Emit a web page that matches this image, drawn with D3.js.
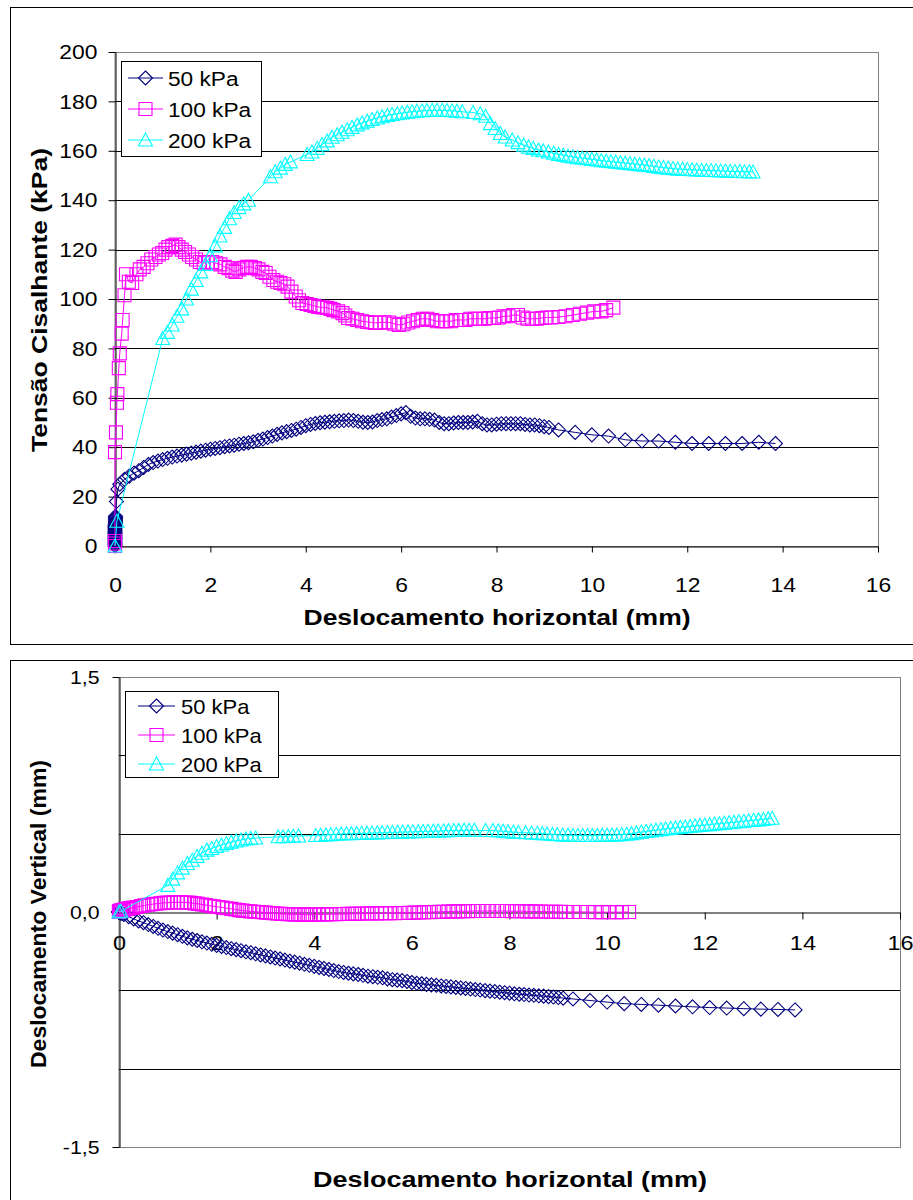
<!DOCTYPE html>
<html>
<head>
<meta charset="utf-8">
<title>Cisalhamento direto</title>
<script src="https://d3js.org/d3.v7.min.js"></script>
<style>
body{margin:0;background:#fff}
svg{display:block}
text{font-family:"Liberation Sans",Arial,sans-serif;fill:#000}
</style>
</head>
<body>
<script>
// rows: [deslocamento horizontal (mm), tensão cisalhante (kPa), deslocamento vertical (mm)]
const series50 = [
  [0,0,0],[0,0.5,0],[0,1,0],[0,1.5,0],[0,2,0],[0,2.5,0],[0,3,0],[0,3.5,0],[0,4,0],[0,4.5,0],[0,5,0],[0,5.5,0],
  [0,6,0],[0,6.5,0],[0,7,0],[0,7.5,0],[0,8,0],[0,8.5,0],[0.01,9,0],[0.01,9.5,0],[0.01,10,0],[0.01,10.5,0],
  [0.01,11,-0.002],[0.01,11.5,-0.002],[0.01,12,-0.003],
  [0.03,18,-0.006],[0.06,23,-0.01],
  [0.1,25,-0.016],[0.2,27,-0.03],[0.3,28.3,-0.044],[0.4,29.5,-0.057],[0.5,30.5,-0.068],[0.6,31.8,-0.08],
  [0.7,33,-0.092],[0.8,33.8,-0.104],[0.9,34.4,-0.115],[1.0,35,-0.125],[1.1,35.5,-0.135],[1.2,36,-0.145],
  [1.3,36.4,-0.155],[1.4,36.8,-0.165],[1.5,37.2,-0.174],[1.6,37.6,-0.182],[1.7,38,-0.19],[1.8,38.4,-0.198],
  [1.9,38.8,-0.206],[2.0,39.2,-0.213],[2.1,39.5,-0.22],[2.2,39.8,-0.227],[2.3,40.2,-0.234],[2.4,40.5,-0.24],
  [2.5,40.8,-0.247],[2.6,41.2,-0.254],[2.7,41.5,-0.26],[2.8,41.8,-0.267],[2.9,42.2,-0.274],[3.0,42.8,-0.28],
  [3.1,43.3,-0.287],[3.2,43.9,-0.294],[3.3,44.5,-0.3],[3.4,45.2,-0.307],[3.5,45.8,-0.314],[3.6,46.3,-0.32],
  [3.7,46.8,-0.327],[3.8,47.3,-0.334],[3.9,48,-0.34],[4.0,48.7,-0.347],[4.1,49.2,-0.354],[4.2,49.6,-0.36],
  [4.3,49.9,-0.367],[4.4,50.1,-0.374],[4.5,50.3,-0.38],[4.6,50.5,-0.386],[4.7,50.7,-0.391],[4.8,50.8,-0.395],
  [4.9,51,-0.399],[5.0,50.8,-0.404],[5.1,50.5,-0.41],[5.2,50.1,-0.413],[5.3,50,-0.417],[5.4,50.2,-0.42],
  [5.5,50.8,-0.427],[5.6,51.2,-0.432],[5.7,51.5,-0.435],[5.8,52.2,-0.438],[5.9,52.8,-0.443],[6.0,53.5,-0.45],
  [6.1,54,-0.455],[6.2,52.5,-0.458],[6.3,51.8,-0.462],[6.4,51.5,-0.465],[6.5,51.5,-0.468],[6.6,51.3,-0.472],
  [6.7,51,-0.475],[6.8,50,-0.478],[6.9,49.5,-0.482],[7.0,49.5,-0.485],[7.1,49.8,-0.488],[7.2,50,-0.492],
  [7.3,50,-0.495],[7.4,50,-0.498],[7.5,50.2,-0.502],[7.6,50.5,-0.505],[7.7,49.5,-0.508],[7.8,49,-0.512],
  [7.9,49,-0.515],[8.0,49.3,-0.518],[8.1,49.5,-0.522],[8.2,49.5,-0.525],[8.3,49.5,-0.527],[8.4,49.5,-0.53],
  [8.5,49.5,-0.532],[8.6,49.2,-0.535],[8.7,49,-0.537],[8.8,49,-0.54],[8.9,48.7,-0.543],[9.0,48.3,-0.546],
  [9.1,48,-0.55],
  [9.3,47,-0.555],[9.65,46,-0.565],[10.0,45,-0.575],[10.35,44.5,-0.585],[10.7,43,-0.59],[11.05,42.5,-0.595],
  [11.4,42.5,-0.6],[11.75,42,-0.605],[12.1,41.5,-0.61],[12.45,41.5,-0.613],[12.8,41.5,-0.617],[13.15,41.5,-0.62],
  [13.5,42,-0.622],[13.85,41.5,-0.625]
]
const series100 = [
  [0,0,0],[0,1,0],[0,2,0.005],[0,38,0.005],[0.02,46,0.008],[0.04,58,0.01],[0.05,61.5,0.01],[0.08,72,0.012],
  [0.1,78,0.015],[0.14,86,0.018],[0.16,91.5,0.02],[0.2,101.5,0.022],[0.23,110,0.025],[0.29,107,0.028],
  [0.36,106.5,0.032],[0.45,110,0.038],[0.52,112,0.042],[0.6,113,0.046],[0.68,114.5,0.05],[0.76,116,0.053],
  [0.85,117,0.056],[0.92,118,0.058],[0.99,118.6,0.06],[1.06,120,0.061],[1.12,121,0.062],[1.2,121.5,0.062],
  [1.27,122,0.062],[1.33,121,0.061],[1.4,120,0.06],[1.47,119,0.058],[1.55,118,0.055],[1.62,117,0.052],
  [1.7,116,0.048],[1.78,115,0.044],[1.86,114.5,0.04],[1.95,115,0.036],[2.04,115,0.032],[2.12,114.5,0.028],
  [2.21,114,0.024],[2.3,113,0.02],[2.38,112.5,0.016],[2.46,111.5,0.012],[2.53,111,0.009],[2.61,112,0.006],
  [2.69,112.6,0.004],[2.77,113,0.002],[2.85,113,0],[2.93,112.5,-0.002],[3.01,112,-0.004],[3.09,111,-0.006],
  [3.16,110.5,-0.008],[3.24,109,-0.01],[3.32,107.7,-0.012],[3.4,107,-0.013],[3.47,106.5,-0.014],
  [3.55,106,-0.015],[3.62,105,-0.016],[3.7,103,-0.016],[3.79,101,-0.017],[3.86,99.5,-0.017],[3.93,98.4,-0.017],
  [4.02,98,-0.016],[4.1,97.6,-0.016],[4.18,97.2,-0.015],[4.26,96.8,-0.015],[4.35,96.6,-0.014],[4.45,96.4,-0.014],
  [4.52,96,-0.013],[4.58,95.5,-0.013],[4.68,95,-0.012],[4.77,94.3,-0.012],[4.83,93.3,-0.011],[4.89,92.3,-0.011],
  [4.98,92,-0.01],[5.08,91.5,-0.01],[5.18,91,-0.009],[5.29,90.7,-0.009],[5.38,90.5,-0.008],[5.46,90.3,-0.008],
  [5.55,90.5,-0.007],[5.65,90.6,-0.007],[5.75,90.5,-0.006],[5.85,90,-0.006],[5.95,89.5,-0.005],[6.05,89.8,-0.004],
  [6.15,90.5,-0.003],[6.25,91,-0.002],[6.35,91.5,-0.001],[6.45,92,0],[6.55,92,0.001],[6.65,91.5,0.002],
  [6.75,91,0.003],[6.85,91,0.004],[6.95,91,0.004],[7.05,91,0.005],[7.15,91.5,0.005],[7.25,91.5,0.006],
  [7.35,91.5,0.006],[7.45,92,0.006],[7.55,92,0.006],[7.65,92,0.006],[7.75,92,0.006],[7.85,92.3,0.006],
  [7.95,92.3,0.006],[8.05,92.5,0.005],[8.15,93,0.005],[8.25,93,0.005],[8.35,93.5,0.004],[8.45,93.5,0.004],
  [8.55,92.5,0.003],[8.65,92,0.003],[8.75,92,0.002],[8.85,92,0.002],[8.95,92.3,0.001],[9.05,92.5,0.001],
  [9.15,92.5,0],[9.3,92.7,0],[9.45,93,0],[9.6,93.5,0],[9.75,94,-0.001],[9.9,94.5,-0.001],[10.05,95,-0.001],
  [10.2,95,-0.001],[10.3,95.5,-0.001],[10.45,96.5,0]
]
const series200 = [
  [0,0,0],[0.04,10,0.005],[1.0,84,0.17],[1.1,86.5,0.21],[1.2,89.5,0.25],[1.3,93,0.28],[1.4,96,0.31],
  [1.5,100,0.33],[1.6,104,0.355],[1.7,107.5,0.375],[1.8,111,0.395],[1.9,114,0.405],[2.0,117.5,0.418],
  [2.1,121.5,0.428],[2.2,125.5,0.437],[2.3,129,0.446],[2.4,132.5,0.453],[2.5,135,0.46],[2.6,137,0.466],
  [2.7,138.5,0.469],[2.8,140,0.472],
  [3.26,149.5,0.48],[3.36,151.5,0.48],[3.47,153,0.482],[3.57,154.5,0.484],[3.68,155.5,0.485],
  [4.03,158.5,0.488],[4.13,159.5,0.49],[4.24,161,0.492],[4.34,162.5,0.494],[4.45,164,0.496],[4.55,165.5,0.498],
  [4.66,166.5,0.5],[4.76,167.5,0.5],[4.87,168.5,0.501],[4.97,169.5,0.502],[5.08,170.5,0.503],[5.18,171.3,0.504],
  [5.29,172,0.505],[5.39,172.7,0.506],[5.5,173.3,0.507],[5.6,173.8,0.508],[5.71,174.3,0.509],[5.81,174.7,0.51],
  [5.92,175,0.511],[6.02,175.3,0.512],[6.13,175.6,0.513],[6.23,175.8,0.514],[6.33,176,0.515],[6.44,176.2,0.516],
  [6.54,176.3,0.517],[6.65,176.4,0.518],[6.75,176.4,0.519],[6.86,176.4,0.52],[6.96,176.3,0.521],[7.07,176.2,0.522],
  [7.17,176,0.522],[7.28,175.8,0.522],
  [7.51,175.5,0.52],[7.66,175,0.52],[7.77,174,0.518],[7.87,171,0.515],[7.97,169,0.512],[8.08,167,0.51],
  [8.18,165.6,0.508],[8.33,164.4,0.506],[8.45,163.3,0.504],[8.57,162.3,0.502],[8.67,161.5,0.5],[8.77,161,0.498],
  [8.88,160.3,0.495],[8.98,160,0.493],[9.09,159.5,0.491],[9.2,159,0.49],[9.3,158.5,0.489],[9.4,158.2,0.488],
  [9.5,157.8,0.488],[9.6,157.5,0.488],[9.7,157.2,0.488],[9.8,157,0.489],[9.9,156.8,0.49],[10.0,156.5,0.49],
  [10.1,156.3,0.491],[10.2,156,0.492],[10.3,155.8,0.494],[10.4,155.6,0.496],[10.5,155.4,0.5],[10.6,155.2,0.505],
  [10.7,155,0.51],[10.8,154.8,0.514],[10.9,154.6,0.518],[11.0,154.4,0.522],[11.1,154.2,0.526],[11.2,154,0.53],
  [11.3,153.7,0.534],[11.4,153.4,0.537],[11.5,153.2,0.54],[11.6,153,0.543],[11.7,152.8,0.546],[11.8,152.6,0.549],
  [11.9,152.5,0.552],[12.0,152.4,0.555],[12.1,152.3,0.558],[12.2,152.2,0.561],[12.3,152.1,0.564],[12.4,152,0.567],
  [12.5,152,0.57],[12.6,151.9,0.573],[12.7,151.8,0.576],[12.8,151.8,0.579],[12.9,151.7,0.582],[13.0,151.6,0.585],
  [13.1,151.6,0.588],[13.2,151.5,0.591],[13.3,151.5,0.595],[13.38,151.4,0.598]
]

const seriesNames = ['50 kPa', '100 kPa', '200 kPa']
const seriesColors = ['#000080', '#ff00ff', '#00ffff']
const seriesMarkers = ['diamond', 'square', 'triangle']
const allSeries = [series50, series100, series200]

const xTicks = [0, 2, 4, 6, 8, 10, 12, 14, 16]
const tauTicks = [0, 20, 40, 60, 80, 100, 120, 140, 160, 180, 200]
const tauGrid = [20, 40, 60, 80, 100, 120, 140, 160, 180]
const vertTicks = [-1.5, 0, 1.5]
const vertGrid = [-1, -0.5, 0.5, 1]

const svg = d3.select('body').append('svg')
  .attr('width', 913)
  .attr('height', 1200)

// marker shapes (open, like the Excel ones)
const markerPath = {
  diamond: 'M0,-7L7,0L0,7L-7,0Z',
  square: 'M-6.5,-6.5H6.5V6.5H-6.5Z',
  triangle: 'M0,-7L7,6L-7,6Z'
}

// 1,5 / 0,0 / -1,5 with a plain hyphen
const fmtComma = d => d3.format('.1f')(d).replace('.', ',').replace('\u2212', '-')

function drawPanel(p) {
  const g = svg.append('g')

  // outer frame
  g.append('rect')
    .attr('x', p.frame[0] + 0.5).attr('y', p.frame[1] + 0.5)
    .attr('width', p.frame[2]).attr('height', p.frame[3])
    .attr('fill', 'none').attr('stroke', '#000').attr('stroke-width', 1)

  const x = d3.scaleLinear().domain([0, 16]).range([p.left, p.right])
  const y = d3.scaleLinear().domain(p.yDomain).range([p.bottom, p.top])

  // plot area border
  g.append('rect')
    .attr('x', p.left).attr('y', p.top + 0.5)
    .attr('width', p.right - p.left + 0.5).attr('height', p.bottom - p.top)
    .attr('fill', 'none').attr('stroke', '#808080').attr('stroke-width', 1)

  // gridlines
  g.append('g').selectAll('line')
    .data(p.grid)
    .join('line')
      .attr('x1', p.left).attr('x2', p.right)
      .attr('y1', d => Math.round(y(d)) + 0.5).attr('y2', d => Math.round(y(d)) + 0.5)
      .attr('stroke', '#000').attr('stroke-width', 1)

  // y axis
  const yAxis = g.append('g')
    .attr('transform', `translate(${p.left + 0.5},0)`)
    .call(d3.axisLeft(y).tickValues(p.yTicks).tickFormat(p.yFormat).tickSizeInner(7).tickSizeOuter(0))
  yAxis.selectAll('text')
    .attr('x', -p.yLabelGap / p.tickStretch)
    .attr('transform', `scale(${p.tickStretch},1)`)
    .style('font-size', p.yTickFont + 'px')

  // x axis
  const xAxis = g.append('g')
    .attr('transform', `translate(0,${Math.round(y(p.xAxisAt)) + 0.5})`)
    .call(d3.axisBottom(x).tickValues(xTicks).tickFormat(d3.format('d')).tickSizeInner(p.xTickLen).tickSizeOuter(0))
  xAxis.selectAll('text')
    .attr('y', p.xLabelGap)
    .attr('transform', `scale(${p.tickStretch},1)`)
    .style('font-size', p.xTickFont + 'px')
  g.selectAll('.domain, .tick line').attr('stroke', '#000')

  // series: line then markers, in Excel's drawing order
  const line = d3.line().x(d => x(d[0])).y(d => y(d[p.valueIndex]))
  allSeries.forEach((s, i) => {
    const sg = g.append('g')
    sg.append('path')
      .datum(s)
      .attr('d', line)
      .attr('fill', 'none')
      .attr('stroke', seriesColors[i])
      .attr('stroke-width', 1)
    sg.selectAll('path.m')
      .data(s)
      .join('path')
        .attr('class', 'm')
        .attr('transform', d => `translate(${x(d[0])},${y(d[p.valueIndex])})`)
        .attr('d', markerPath[seriesMarkers[i]])
        .attr('fill', 'none')
        .attr('stroke', seriesColors[i])
        .attr('stroke-width', 1.1)
  })

  // legend
  const L = p.legend
  const lg = g.append('g')
  lg.append('rect')
    .attr('x', L.x + 0.5).attr('y', L.y + 0.5)
    .attr('width', L.w).attr('height', L.h)
    .attr('fill', '#fff').attr('stroke', '#000').attr('stroke-width', 1)
  seriesNames.forEach((name, i) => {
    const ry = L.rows[i]
    lg.append('line')
      .attr('x1', L.lineX[0]).attr('x2', L.lineX[1])
      .attr('y1', ry).attr('y2', ry)
      .attr('stroke', seriesColors[i]).attr('stroke-width', 1)
    lg.append('path')
      .attr('transform', `translate(${(L.lineX[0] + L.lineX[1]) / 2},${ry})`)
      .attr('d', markerPath[seriesMarkers[i]])
      .attr('fill', 'none').attr('stroke', seriesColors[i]).attr('stroke-width', 1.1)
    lg.append('text')
      .attr('transform', `translate(${L.textX},${ry + L.font * 0.38}) scale(${L.stretch},1)`)
      .style('font-size', L.font + 'px')
      .text(name)
  })

  // axis titles
  g.append('text')
    .attr('x', p.xTitle.x).attr('y', p.xTitle.y)
    .attr('text-anchor', 'middle')
    .attr('textLength', p.xTitle.len).attr('lengthAdjust', 'spacingAndGlyphs')
    .style('font-size', p.xTitle.font + 'px').style('font-weight', 'bold')
    .text(p.xTitle.text)
  g.append('text')
    .attr('transform', `translate(${p.yTitle.x},${p.yTitle.y}) rotate(-90)`)
    .attr('text-anchor', 'middle')
    .attr('textLength', p.yTitle.len).attr('lengthAdjust', 'spacingAndGlyphs')
    .style('font-size', p.yTitle.font + 'px').style('font-weight', 'bold')
    .text(p.yTitle.text)
}

// top: shear stress
drawPanel({
  frame: [10, 7, 920, 637],
  left: 115, right: 878, top: 52, bottom: 546,
  yDomain: [0, 200], yTicks: tauTicks, grid: tauGrid, yFormat: d3.format('d'),
  valueIndex: 1, xAxisAt: 0,
  tickStretch: 1.09, yTickFont: 21, xTickFont: 21, yLabelGap: 18, xLabelGap: 31, xTickLen: 6,
  legend: {x: 121, y: 61, w: 140, h: 95, rows: [78, 109, 140], lineX: [128, 163], textX: 168, font: 21, stretch: 1.08},
  xTitle: {text: 'Deslocamento horizontal (mm)', x: 497, y: 625, len: 387, font: 22},
  yTitle: {text: 'Tensão Cisalhante (kPa)', x: 47, y: 300, len: 304, font: 22}
})

// bottom: vertical displacement
drawPanel({
  frame: [10, 660, 920, 600],
  left: 119, right: 900, top: 677, bottom: 1147,
  yDomain: [-1.5, 1.5], yTicks: vertTicks, grid: vertGrid, yFormat: fmtComma,
  valueIndex: 2, xAxisAt: 0,
  tickStretch: 1.12, yTickFont: 19, xTickFont: 21, yLabelGap: 20, xLabelGap: 23, xTickLen: 7,
  legend: {x: 125, y: 691, w: 153, h: 86, rows: [706, 735, 764], lineX: [138, 175], textX: 181, font: 20, stretch: 1.1},
  xTitle: {text: 'Deslocamento horizontal (mm)', x: 510, y: 1187, len: 394, font: 22},
  yTitle: {text: 'Deslocamento Vertical (mm)', x: 46, y: 914, len: 308, font: 22}
})
</script>
</body>
</html>
